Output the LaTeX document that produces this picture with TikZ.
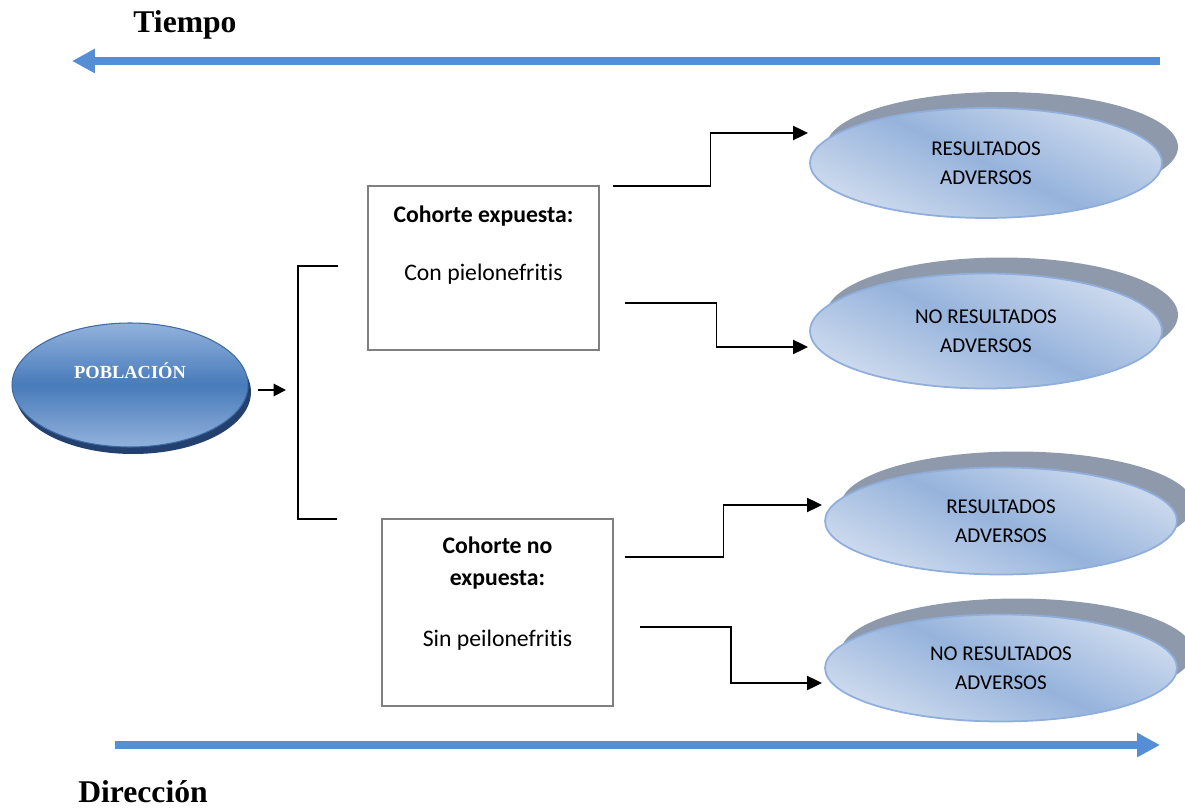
\documentclass[tikz,border=0pt]{standalone}
\usepackage{fontspec}
\setmainfont{Liberation Serif}
\newfontfamily\carlito[Ligatures=NoCommon]{Carlito}
\usetikzlibrary{arrows.meta,shapes.geometric,shadows,positioning,calc}
\definecolor{flecha}{RGB}{85,142,213}
\definecolor{sombra}{RGB}{142,154,172}
\definecolor{borde}{RGB}{143,174,219}
\definecolor{claro}{RGB}{206,219,238}
\definecolor{medio}{RGB}{150,179,220}
\definecolor{pobclaro}{RGB}{146,178,220}
\definecolor{pobmedio}{RGB}{72,123,186}
\definecolor{pobsombra}{RGB}{35,64,110}
\definecolor{pobborde}{RGB}{62,106,166}
\definecolor{gris}{RGB}{128,128,128}
\begin{document}
\begin{tikzpicture}[x=0.02cm, y=-0.02cm,
    resultado/.style={ellipse, draw=borde, line width=1pt, inner sep=0pt,
        minimum width=7.04cm, minimum height=2.2cm,
        top color=claro, bottom color=claro, middle color=medio, shading angle=-25,
        align=center, font=\carlito\fontsize{12}{16.5}\selectfont,
        drop shadow={shadow xshift=0.32cm, shadow yshift=0.32cm, fill=sombra, opacity=1}},
    pobla/.style={ellipse, draw=pobborde, line width=0.6pt, inner sep=0pt,
        minimum width=4.72cm, minimum height=2.48cm,
        top color=pobclaro, bottom color=pobclaro, middle color=pobmedio,
        drop shadow={shadow xshift=0.06cm, shadow yshift=-0.14cm, fill=pobsombra, opacity=1}},
    caja/.style={draw=gris, line width=1.1pt, inner sep=0pt, minimum width=4.62cm},
    texto/.style={align=center, inner sep=0pt, font=\carlito\fontsize{13.5}{18.5}\selectfont},
    titulo/.style={font=\bfseries\fontsize{18}{20}\selectfont},
    flechaazul/.style={flecha, line width=4.5pt, -{Triangle[length=13pt,width=13pt]}},
    conector/.style={line width=1.1pt, -{Triangle[length=8.5pt,width=8pt]}}]
\useasboundingbox (0,0) rectangle (1185,810);

% tiempo y direccion
\node[titulo, anchor=base] (tiempo) at (185,33) {Tiempo};
\node[titulo, anchor=base] (direccion) at (143,802) {Dirección};
\coordinate (t0) at (1160,61);
\coordinate (t1) at (72,61);
\coordinate (d0) at (115,745);
\coordinate (d1) at (1160,745);
\draw[flechaazul] (t0) -- (t1);
\draw[flechaazul] (d0) -- (d1);

% poblacion
\node[pobla] (pob) at (130,385) {};
\node[font=\bfseries\fontsize{10.5}{12}\selectfont, text=white] (pobtxt) at (130,371) {POBLACIÓN};
\coordinate (pobout) at (258,390);
\coordinate (brin) at (286,390);
\draw[line width=1.1pt, -{Triangle[length=7pt,width=7pt]}] (pobout) -- (brin);
\coordinate (brtop) at (338,266);
\coordinate (brbot) at (337,519);
\draw[line width=1pt] (brtop) -- (298,266) |- (brbot);

% cohortes
\node[caja, minimum height=3.28cm] (exp) at (483.5,268) {};
\node[texto, below=0.4cm of exp.north] (exptxt) {\textbf{Cohorte expuesta:}\\[15pt]Con pielonefritis};
\node[caja, minimum height=3.74cm] (noexp) at (497.5,612.5) {};
\node[texto, below=0.36cm of noexp.north] (noexptxt) {\textbf{Cohorte no}\\\textbf{expuesta:}\\[16pt]Sin peilonefritis};

% resultados
\node[resultado] (r1) at (986,163) {RESULTADOS\\ADVERSOS};
\node[resultado, minimum height=2.3cm] (r2) at (986,331) {NO RESULTADOS\\ADVERSOS};
\node[resultado, minimum height=2.14cm] (r3) at (1001,521) {RESULTADOS\\ADVERSOS};
\node[resultado, minimum height=2.14cm] (r4) at (1001,668) {NO RESULTADOS\\ADVERSOS};

\coordinate (c1) at (613,186);
\coordinate (c2) at (625,303);
\coordinate (c3) at (625,557);
\coordinate (c4) at (640,627);
\coordinate (r1in) at (808,133);
\coordinate (r2in) at (808,347);
\coordinate (r3in) at (822,505);
\coordinate (r4in) at (822,683);
\draw[conector] (c1) -| ($(c1)!.5!(r1in)$) |- (r1in);
\draw[conector] (c2) -| ($(c2)!.5!(r2in)$) |- (r2in);
\draw[conector] (c3) -| ($(c3)!.5!(r3in)$) |- (r3in);
\draw[conector] (c4) -| ($(c4)!.5!(r4in)$) |- (r4in);
\end{tikzpicture}
\end{document}
